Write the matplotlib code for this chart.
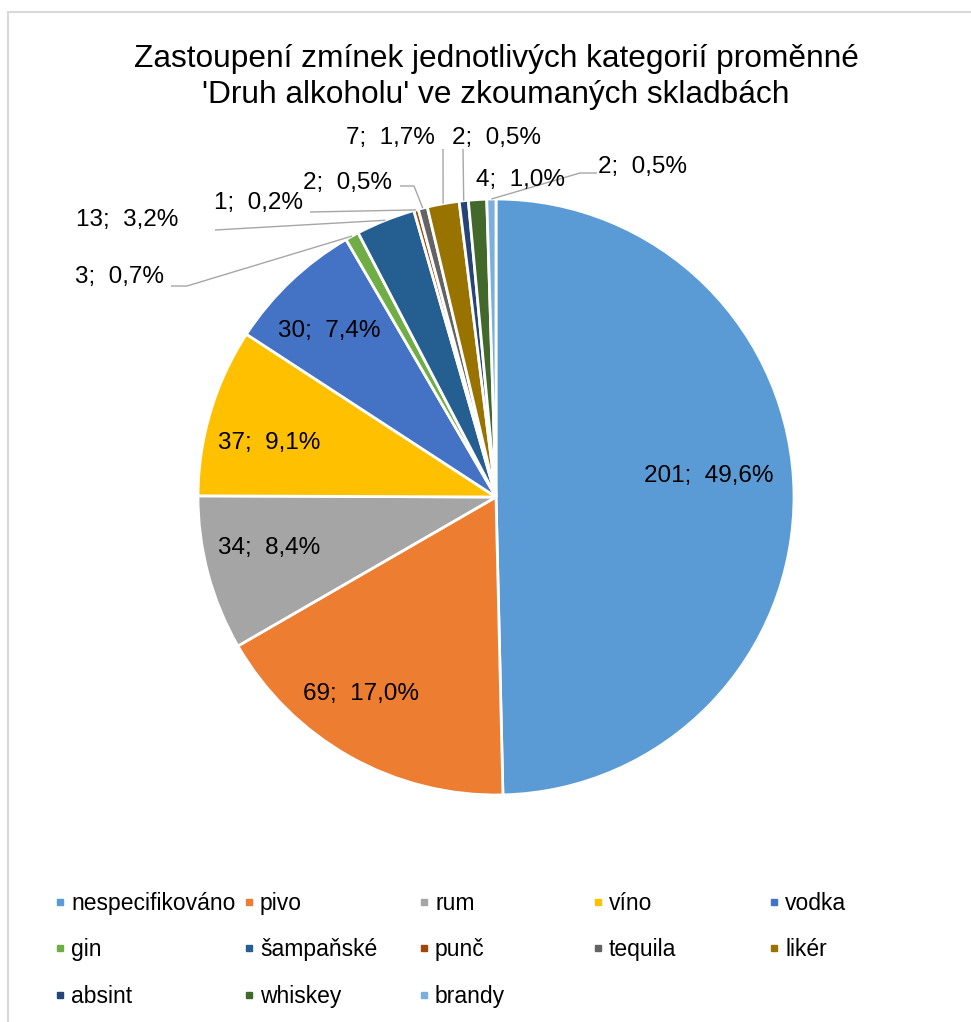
import matplotlib
matplotlib.use("Agg")
import matplotlib.pyplot as plt
from matplotlib.lines import Line2D
import numpy as np

plt.rcParams['font.family'] = ['Liberation Sans', 'DejaVu Sans']

categories = ["nespecifikováno", "pivo", "rum", "víno", "vodka", "gin", "šampaňské",
              "punč", "tequila", "likér", "absint", "whiskey", "brandy"]
counts = [201, 69, 34, 37, 30, 3, 13, 1, 2, 7, 2, 4, 2]
colors = ["#5B9BD5", "#ED7D31", "#A5A5A5", "#FFC000", "#4472C4", "#70AD47", "#255E91",
          "#9E480E", "#636363", "#997300", "#264478", "#43682B", "#7CAFDD"]
title = "Zastoupení zmínek jednotlivých kategorií proměnné\n'Druh alkoholu' ve zkoumaných skladbách"

W, H = 971, 1022
CX, CY, R = 496, 497, 298

def P(px, py):
    return (px - CX) / R, (CY - py) / R

fig = plt.figure(figsize=(W / 100, H / 100), dpi=100)
ax = fig.add_axes([0, 0, 1, 1])

wedges, _ = ax.pie(counts, colors=colors, startangle=90, counterclock=False, radius=1,
                   wedgeprops=dict(edgecolor="white", linewidth=2.0))
ax.set_xlim(-CX / R, (W - CX) / R)
ax.set_ylim(-(H - CY) / R, CY / R)
ax.set_aspect('equal', adjustable='box')
ax.axis('off')

total = sum(counts)

def lab(v):
    pct = f"{100 * v / total:.1f}".replace(".", ",")
    return f"{v};  {pct}%"

# label layout: (text center px, py, leader points in px or None)
inside = {0: (709, 476), 1: (361, 694), 2: (269, 548), 3: (269, 443), 4: (329, 331)}
outside = {
    5: ((119, 277), [(171, 286), (187, 286)]),
    6: ((127, 220), [(215, 230)]),
    7: ((258, 203), [(310, 212)]),
    8: ((347, 183), [(400, 186), (414, 186)]),
    9: ((390, 138), [(443, 149)]),
    10: ((496, 138), [(463, 149)]),
    11: ((520, 180), None),
    12: ((643, 167), [(597, 173), (580, 173)]),
}

fs = 17.5
cum = np.cumsum([0] + counts)
for i, v in enumerate(counts):
    if i in inside:
        x, y = P(*inside[i])
        ax.text(x, y, lab(v), ha='center', va='center', fontsize=fs, color='black')
    else:
        (tx, ty), pts = outside[i]
        x, y = P(tx, ty)
        ax.text(x, y, lab(v), ha='center', va='center', fontsize=fs, color='black')
        if pts is not None:
            mid = (cum[i] + v / 2) / total
            ang = np.deg2rad(90 - 360 * mid)
            ex, ey = 1.0 * np.cos(ang), 1.0 * np.sin(ang)
            xs = [P(*p)[0] for p in pts] + [ex]
            ys = [P(*p)[1] for p in pts] + [ey]
            ax.plot(xs, ys, color="#A6A6A6", lw=1.0, solid_capstyle='butt')

tx, ty = P(496, 77)
ax.text(tx, ty, title, ha='center', va='center', fontsize=22.8, linespacing=1.25)

# border (top and left)
ax.plot([P(7.5, 0)[0], P(7.5, 1022)[0]], [P(7.5, 11.5)[1], P(7.5, 1022)[1]], color="#D9D9D9", lw=1.5)
ax.plot([P(7.5, 11.5)[0], P(971, 11.5)[0]], [P(0, 11.5)[1], P(0, 11.5)[1]], color="#D9D9D9", lw=1.5)

# legend: 5 columns
ncol = 5
col_x = [55, 244, 419, 593, 769]
for c in range(ncol):
    idx = list(range(c, len(categories), ncol))
    handles = [Line2D([], [], marker='s', linestyle='', color=colors[k], markersize=5) for k in idx]
    labels = [categories[k] for k in idx]
    leg = fig.legend(handles, labels, loc='upper left',
                     bbox_to_anchor=(col_x[c] / W, 1 - 892 / H),
                     frameon=False, fontsize=16.5, handlelength=0.45, handletextpad=0.25,
                     labelspacing=1.02, borderpad=0, borderaxespad=0)

fig.savefig("out.png", dpi=100)
